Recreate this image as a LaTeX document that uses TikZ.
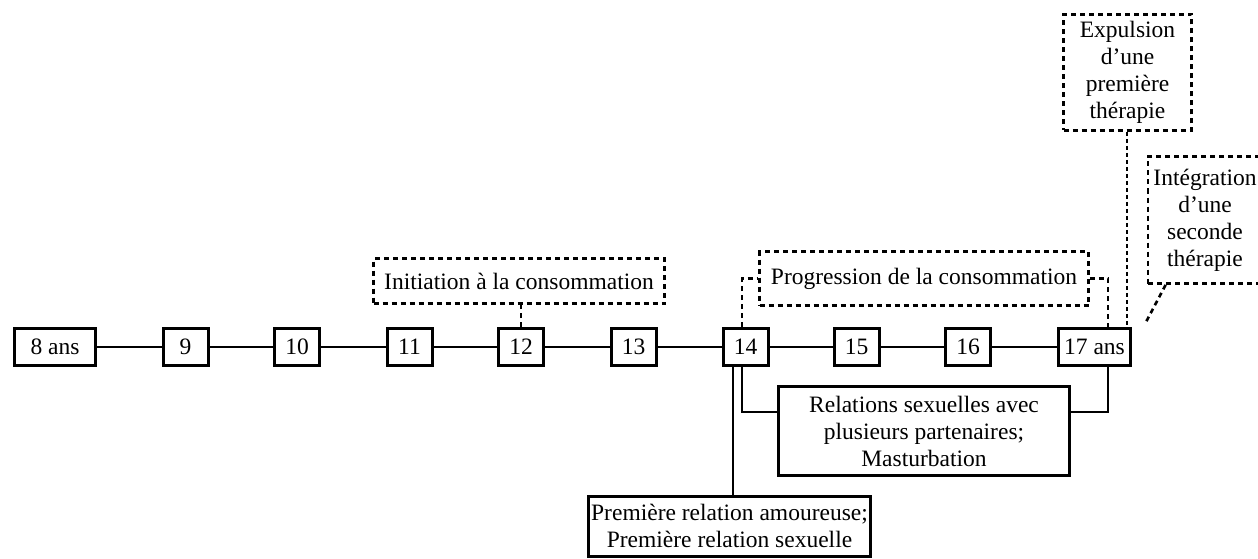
\documentclass[tikz,border=0pt]{standalone}
\usepackage{fontspec}
\setmainfont{Liberation Serif}
\usetikzlibrary{calc}
\tikzset{
  yearbox/.style={draw, line width=3pt, minimum height=37pt, minimum width=45pt, inner sep=0pt, font=\fontsize{23.5}{27}\selectfont},
  eventbox/.style={draw, line width=3pt, inner sep=0pt, align=center, font=\fontsize{23.5}{27}\selectfont},
  notebox/.style={draw, line width=2.8pt, dash pattern=on 5pt off 4pt, inner sep=0pt, align=center, font=\fontsize{23.5}{27}\selectfont},
  link/.style={line width=2.5pt},
  dlink/.style={line width=2.6pt, dash pattern=on 5pt off 4pt},
  dotlink/.style={line width=2.6pt, dash pattern=on 4pt off 3pt}
}
\begin{document}
\begin{tikzpicture}[x=1pt,y=-1pt]
\useasboundingbox (0,0) rectangle (1258,559);
\clip (0,0) rectangle (1258,559);
% timeline
\node[yearbox, minimum width=81pt] (n8) at (55,347) {8 ans};
\node[yearbox] (n9) at (185.5,347) {9};
\node[yearbox] (n10) at (297,347) {10};
\node[yearbox] (n11) at (409.5,347) {11};
\node[yearbox] (n12) at (521,347) {12};
\node[yearbox] (n13) at (633.5,347) {13};
\node[yearbox] (n14) at (745.5,347) {14};
\node[yearbox] (n15) at (856.5,347) {15};
\node[yearbox] (n16) at (968,347) {16};
\node[yearbox, minimum width=72pt] (n17) at (1094.5,347) {17 ans};
\foreach \a/\b in {n8/n9,n9/n10,n10/n11,n11/n12,n12/n13,n13/n14,n14/n15,n15/n16,n16/n17}
  \draw[link] (\a) -- (\b);
% notes
\node[notebox, minimum width=291pt, minimum height=45pt] (init) at (519,281) {Initiation à la consommation};
\node[notebox, minimum width=329pt, minimum height=54pt] (prog) at (924,278.5) {Progression de la consommation};
\node[notebox, minimum width=128pt, minimum height=116pt] (expu) at (1127.5,72.5) {Expulsion\\d’une\\première\\thérapie};
\node[notebox, minimum width=114pt, minimum height=127pt] (integ) at (1205,220) {Intégration\\d’une\\seconde\\thérapie};
% events
\node[eventbox, minimum width=291pt, minimum height=89pt] (rel) at (924,431) {Relations sexuelles avec\\plusieurs partenaires;\\Masturbation};
\node[eventbox, minimum width=282pt, minimum height=60pt] (prem) at (729.5,526) {Première relation amoureuse;\\Première relation sexuelle};
% coordinates
\coordinate (a14) at ($(n14.north)+(-3.5,0)$);
\coordinate (b14a) at ($(n14.south)+(-12.5,0)$);
\coordinate (b14b) at ($(n14.south)+(-3.5,0)$);
\coordinate (a17) at ($(n17.north)+(13.5,0)$);
\coordinate (b17) at ($(n17.south)+(13.5,0)$);
\coordinate (e17) at ($(n17.north)+(32.5,0)$);
\coordinate (i17) at (1146,322);
\coordinate (relL) at ($(rel.north west)+(0,27)$);
\coordinate (relR) at ($(rel.north east)+(0,27)$);
% dashed connectors
\draw[dlink] (n12.north) -- (n12.north |- init.south);
\draw[dlink] (a14) |- (prog.west);
\draw[dlink] (prog.east) -| (a17);
\draw[dotlink] (expu.south -| e17) -- (e17);
\draw[dlink] ($(integ.south west)+(19,0)$) -- (i17);
% solid connectors
\draw[link] (b14a) -- (b14a |- prem.north);
\draw[link] (b14b) |- (relL);
\draw[link] (relR) -| (b17);
\end{tikzpicture}
\end{document}
